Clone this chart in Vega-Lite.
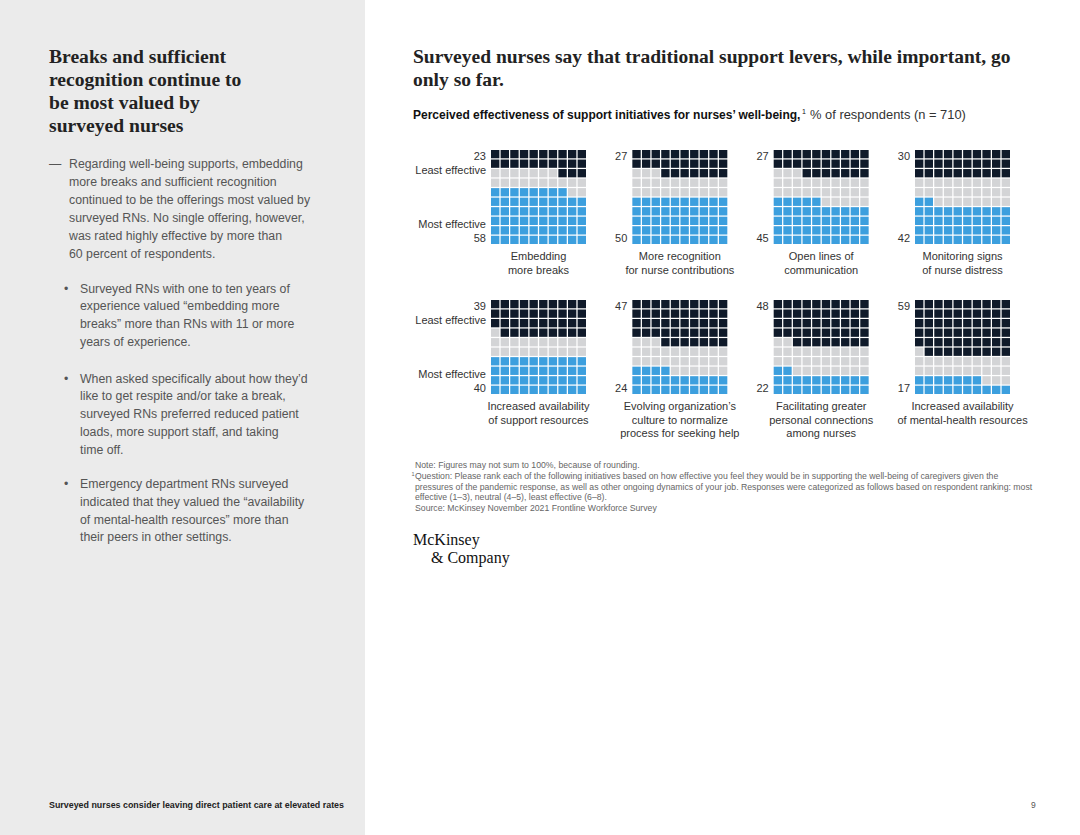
{
"$schema": "https://vega.github.io/schema/vega-lite/v6.json",
"width": 1080, "height": 835, "padding": 0, "autosize": {"type": "none"},
"background": "#ffffff",
"config": {"view": {"stroke": null}, "text": {"font": "Liberation Sans"}},
"datasets": {
"panels": [
{"p":1,"px":0,"py":0,"name":"Embedding\nmore breaks","least":23,"most":58},
{"p":2,"px":1,"py":0,"name":"More recognition\nfor nurse contributions","least":27,"most":50},
{"p":3,"px":2,"py":0,"name":"Open lines of\ncommunication","least":27,"most":45},
{"p":4,"px":3,"py":0,"name":"Monitoring signs\nof nurse distress","least":30,"most":42},
{"p":5,"px":0,"py":1,"name":"Increased availability\nof support resources","least":39,"most":40},
{"p":6,"px":1,"py":1,"name":"Evolving organization’s\nculture to normalize\nprocess for seeking help","least":47,"most":24},
{"p":7,"px":2,"py":1,"name":"Facilitating greater\npersonal connections\namong nurses","least":48,"most":22},
{"p":8,"px":3,"py":1,"name":"Increased availability\nof mental-health resources","least":59,"most":17}
],
"cells": [
{"p":1,"r":0,"c":0,"k":"L"},{"p":1,"r":0,"c":1,"k":"L"},{"p":1,"r":0,"c":2,"k":"L"},{"p":1,"r":0,"c":3,"k":"L"},{"p":1,"r":0,"c":4,"k":"L"},{"p":1,"r":0,"c":5,"k":"L"},{"p":1,"r":0,"c":6,"k":"L"},{"p":1,"r":0,"c":7,"k":"L"},{"p":1,"r":0,"c":8,"k":"L"},{"p":1,"r":0,"c":9,"k":"L"},
{"p":1,"r":1,"c":0,"k":"L"},{"p":1,"r":1,"c":1,"k":"L"},{"p":1,"r":1,"c":2,"k":"L"},{"p":1,"r":1,"c":3,"k":"L"},{"p":1,"r":1,"c":4,"k":"L"},{"p":1,"r":1,"c":5,"k":"L"},{"p":1,"r":1,"c":6,"k":"L"},{"p":1,"r":1,"c":7,"k":"L"},{"p":1,"r":1,"c":8,"k":"L"},{"p":1,"r":1,"c":9,"k":"L"},
{"p":1,"r":2,"c":0,"k":"N"},{"p":1,"r":2,"c":1,"k":"N"},{"p":1,"r":2,"c":2,"k":"N"},{"p":1,"r":2,"c":3,"k":"N"},{"p":1,"r":2,"c":4,"k":"N"},{"p":1,"r":2,"c":5,"k":"N"},{"p":1,"r":2,"c":6,"k":"N"},{"p":1,"r":2,"c":7,"k":"L"},{"p":1,"r":2,"c":8,"k":"L"},{"p":1,"r":2,"c":9,"k":"L"},
{"p":1,"r":3,"c":0,"k":"N"},{"p":1,"r":3,"c":1,"k":"N"},{"p":1,"r":3,"c":2,"k":"N"},{"p":1,"r":3,"c":3,"k":"N"},{"p":1,"r":3,"c":4,"k":"N"},{"p":1,"r":3,"c":5,"k":"N"},{"p":1,"r":3,"c":6,"k":"N"},{"p":1,"r":3,"c":7,"k":"N"},{"p":1,"r":3,"c":8,"k":"N"},{"p":1,"r":3,"c":9,"k":"N"},
{"p":1,"r":4,"c":0,"k":"M"},{"p":1,"r":4,"c":1,"k":"M"},{"p":1,"r":4,"c":2,"k":"M"},{"p":1,"r":4,"c":3,"k":"M"},{"p":1,"r":4,"c":4,"k":"M"},{"p":1,"r":4,"c":5,"k":"M"},{"p":1,"r":4,"c":6,"k":"M"},{"p":1,"r":4,"c":7,"k":"M"},{"p":1,"r":4,"c":8,"k":"N"},{"p":1,"r":4,"c":9,"k":"N"},
{"p":1,"r":5,"c":0,"k":"M"},{"p":1,"r":5,"c":1,"k":"M"},{"p":1,"r":5,"c":2,"k":"M"},{"p":1,"r":5,"c":3,"k":"M"},{"p":1,"r":5,"c":4,"k":"M"},{"p":1,"r":5,"c":5,"k":"M"},{"p":1,"r":5,"c":6,"k":"M"},{"p":1,"r":5,"c":7,"k":"M"},{"p":1,"r":5,"c":8,"k":"M"},{"p":1,"r":5,"c":9,"k":"M"},
{"p":1,"r":6,"c":0,"k":"M"},{"p":1,"r":6,"c":1,"k":"M"},{"p":1,"r":6,"c":2,"k":"M"},{"p":1,"r":6,"c":3,"k":"M"},{"p":1,"r":6,"c":4,"k":"M"},{"p":1,"r":6,"c":5,"k":"M"},{"p":1,"r":6,"c":6,"k":"M"},{"p":1,"r":6,"c":7,"k":"M"},{"p":1,"r":6,"c":8,"k":"M"},{"p":1,"r":6,"c":9,"k":"M"},
{"p":1,"r":7,"c":0,"k":"M"},{"p":1,"r":7,"c":1,"k":"M"},{"p":1,"r":7,"c":2,"k":"M"},{"p":1,"r":7,"c":3,"k":"M"},{"p":1,"r":7,"c":4,"k":"M"},{"p":1,"r":7,"c":5,"k":"M"},{"p":1,"r":7,"c":6,"k":"M"},{"p":1,"r":7,"c":7,"k":"M"},{"p":1,"r":7,"c":8,"k":"M"},{"p":1,"r":7,"c":9,"k":"M"},
{"p":1,"r":8,"c":0,"k":"M"},{"p":1,"r":8,"c":1,"k":"M"},{"p":1,"r":8,"c":2,"k":"M"},{"p":1,"r":8,"c":3,"k":"M"},{"p":1,"r":8,"c":4,"k":"M"},{"p":1,"r":8,"c":5,"k":"M"},{"p":1,"r":8,"c":6,"k":"M"},{"p":1,"r":8,"c":7,"k":"M"},{"p":1,"r":8,"c":8,"k":"M"},{"p":1,"r":8,"c":9,"k":"M"},
{"p":1,"r":9,"c":0,"k":"M"},{"p":1,"r":9,"c":1,"k":"M"},{"p":1,"r":9,"c":2,"k":"M"},{"p":1,"r":9,"c":3,"k":"M"},{"p":1,"r":9,"c":4,"k":"M"},{"p":1,"r":9,"c":5,"k":"M"},{"p":1,"r":9,"c":6,"k":"M"},{"p":1,"r":9,"c":7,"k":"M"},{"p":1,"r":9,"c":8,"k":"M"},{"p":1,"r":9,"c":9,"k":"M"},
{"p":2,"r":0,"c":0,"k":"L"},{"p":2,"r":0,"c":1,"k":"L"},{"p":2,"r":0,"c":2,"k":"L"},{"p":2,"r":0,"c":3,"k":"L"},{"p":2,"r":0,"c":4,"k":"L"},{"p":2,"r":0,"c":5,"k":"L"},{"p":2,"r":0,"c":6,"k":"L"},{"p":2,"r":0,"c":7,"k":"L"},{"p":2,"r":0,"c":8,"k":"L"},{"p":2,"r":0,"c":9,"k":"L"},
{"p":2,"r":1,"c":0,"k":"L"},{"p":2,"r":1,"c":1,"k":"L"},{"p":2,"r":1,"c":2,"k":"L"},{"p":2,"r":1,"c":3,"k":"L"},{"p":2,"r":1,"c":4,"k":"L"},{"p":2,"r":1,"c":5,"k":"L"},{"p":2,"r":1,"c":6,"k":"L"},{"p":2,"r":1,"c":7,"k":"L"},{"p":2,"r":1,"c":8,"k":"L"},{"p":2,"r":1,"c":9,"k":"L"},
{"p":2,"r":2,"c":0,"k":"N"},{"p":2,"r":2,"c":1,"k":"N"},{"p":2,"r":2,"c":2,"k":"N"},{"p":2,"r":2,"c":3,"k":"L"},{"p":2,"r":2,"c":4,"k":"L"},{"p":2,"r":2,"c":5,"k":"L"},{"p":2,"r":2,"c":6,"k":"L"},{"p":2,"r":2,"c":7,"k":"L"},{"p":2,"r":2,"c":8,"k":"L"},{"p":2,"r":2,"c":9,"k":"L"},
{"p":2,"r":3,"c":0,"k":"N"},{"p":2,"r":3,"c":1,"k":"N"},{"p":2,"r":3,"c":2,"k":"N"},{"p":2,"r":3,"c":3,"k":"N"},{"p":2,"r":3,"c":4,"k":"N"},{"p":2,"r":3,"c":5,"k":"N"},{"p":2,"r":3,"c":6,"k":"N"},{"p":2,"r":3,"c":7,"k":"N"},{"p":2,"r":3,"c":8,"k":"N"},{"p":2,"r":3,"c":9,"k":"N"},
{"p":2,"r":4,"c":0,"k":"N"},{"p":2,"r":4,"c":1,"k":"N"},{"p":2,"r":4,"c":2,"k":"N"},{"p":2,"r":4,"c":3,"k":"N"},{"p":2,"r":4,"c":4,"k":"N"},{"p":2,"r":4,"c":5,"k":"N"},{"p":2,"r":4,"c":6,"k":"N"},{"p":2,"r":4,"c":7,"k":"N"},{"p":2,"r":4,"c":8,"k":"N"},{"p":2,"r":4,"c":9,"k":"N"},
{"p":2,"r":5,"c":0,"k":"M"},{"p":2,"r":5,"c":1,"k":"M"},{"p":2,"r":5,"c":2,"k":"M"},{"p":2,"r":5,"c":3,"k":"M"},{"p":2,"r":5,"c":4,"k":"M"},{"p":2,"r":5,"c":5,"k":"M"},{"p":2,"r":5,"c":6,"k":"M"},{"p":2,"r":5,"c":7,"k":"M"},{"p":2,"r":5,"c":8,"k":"M"},{"p":2,"r":5,"c":9,"k":"M"},
{"p":2,"r":6,"c":0,"k":"M"},{"p":2,"r":6,"c":1,"k":"M"},{"p":2,"r":6,"c":2,"k":"M"},{"p":2,"r":6,"c":3,"k":"M"},{"p":2,"r":6,"c":4,"k":"M"},{"p":2,"r":6,"c":5,"k":"M"},{"p":2,"r":6,"c":6,"k":"M"},{"p":2,"r":6,"c":7,"k":"M"},{"p":2,"r":6,"c":8,"k":"M"},{"p":2,"r":6,"c":9,"k":"M"},
{"p":2,"r":7,"c":0,"k":"M"},{"p":2,"r":7,"c":1,"k":"M"},{"p":2,"r":7,"c":2,"k":"M"},{"p":2,"r":7,"c":3,"k":"M"},{"p":2,"r":7,"c":4,"k":"M"},{"p":2,"r":7,"c":5,"k":"M"},{"p":2,"r":7,"c":6,"k":"M"},{"p":2,"r":7,"c":7,"k":"M"},{"p":2,"r":7,"c":8,"k":"M"},{"p":2,"r":7,"c":9,"k":"M"},
{"p":2,"r":8,"c":0,"k":"M"},{"p":2,"r":8,"c":1,"k":"M"},{"p":2,"r":8,"c":2,"k":"M"},{"p":2,"r":8,"c":3,"k":"M"},{"p":2,"r":8,"c":4,"k":"M"},{"p":2,"r":8,"c":5,"k":"M"},{"p":2,"r":8,"c":6,"k":"M"},{"p":2,"r":8,"c":7,"k":"M"},{"p":2,"r":8,"c":8,"k":"M"},{"p":2,"r":8,"c":9,"k":"M"},
{"p":2,"r":9,"c":0,"k":"M"},{"p":2,"r":9,"c":1,"k":"M"},{"p":2,"r":9,"c":2,"k":"M"},{"p":2,"r":9,"c":3,"k":"M"},{"p":2,"r":9,"c":4,"k":"M"},{"p":2,"r":9,"c":5,"k":"M"},{"p":2,"r":9,"c":6,"k":"M"},{"p":2,"r":9,"c":7,"k":"M"},{"p":2,"r":9,"c":8,"k":"M"},{"p":2,"r":9,"c":9,"k":"M"},
{"p":3,"r":0,"c":0,"k":"L"},{"p":3,"r":0,"c":1,"k":"L"},{"p":3,"r":0,"c":2,"k":"L"},{"p":3,"r":0,"c":3,"k":"L"},{"p":3,"r":0,"c":4,"k":"L"},{"p":3,"r":0,"c":5,"k":"L"},{"p":3,"r":0,"c":6,"k":"L"},{"p":3,"r":0,"c":7,"k":"L"},{"p":3,"r":0,"c":8,"k":"L"},{"p":3,"r":0,"c":9,"k":"L"},
{"p":3,"r":1,"c":0,"k":"L"},{"p":3,"r":1,"c":1,"k":"L"},{"p":3,"r":1,"c":2,"k":"L"},{"p":3,"r":1,"c":3,"k":"L"},{"p":3,"r":1,"c":4,"k":"L"},{"p":3,"r":1,"c":5,"k":"L"},{"p":3,"r":1,"c":6,"k":"L"},{"p":3,"r":1,"c":7,"k":"L"},{"p":3,"r":1,"c":8,"k":"L"},{"p":3,"r":1,"c":9,"k":"L"},
{"p":3,"r":2,"c":0,"k":"N"},{"p":3,"r":2,"c":1,"k":"N"},{"p":3,"r":2,"c":2,"k":"N"},{"p":3,"r":2,"c":3,"k":"L"},{"p":3,"r":2,"c":4,"k":"L"},{"p":3,"r":2,"c":5,"k":"L"},{"p":3,"r":2,"c":6,"k":"L"},{"p":3,"r":2,"c":7,"k":"L"},{"p":3,"r":2,"c":8,"k":"L"},{"p":3,"r":2,"c":9,"k":"L"},
{"p":3,"r":3,"c":0,"k":"N"},{"p":3,"r":3,"c":1,"k":"N"},{"p":3,"r":3,"c":2,"k":"N"},{"p":3,"r":3,"c":3,"k":"N"},{"p":3,"r":3,"c":4,"k":"N"},{"p":3,"r":3,"c":5,"k":"N"},{"p":3,"r":3,"c":6,"k":"N"},{"p":3,"r":3,"c":7,"k":"N"},{"p":3,"r":3,"c":8,"k":"N"},{"p":3,"r":3,"c":9,"k":"N"},
{"p":3,"r":4,"c":0,"k":"N"},{"p":3,"r":4,"c":1,"k":"N"},{"p":3,"r":4,"c":2,"k":"N"},{"p":3,"r":4,"c":3,"k":"N"},{"p":3,"r":4,"c":4,"k":"N"},{"p":3,"r":4,"c":5,"k":"N"},{"p":3,"r":4,"c":6,"k":"N"},{"p":3,"r":4,"c":7,"k":"N"},{"p":3,"r":4,"c":8,"k":"N"},{"p":3,"r":4,"c":9,"k":"N"},
{"p":3,"r":5,"c":0,"k":"M"},{"p":3,"r":5,"c":1,"k":"M"},{"p":3,"r":5,"c":2,"k":"M"},{"p":3,"r":5,"c":3,"k":"M"},{"p":3,"r":5,"c":4,"k":"M"},{"p":3,"r":5,"c":5,"k":"N"},{"p":3,"r":5,"c":6,"k":"N"},{"p":3,"r":5,"c":7,"k":"N"},{"p":3,"r":5,"c":8,"k":"N"},{"p":3,"r":5,"c":9,"k":"N"},
{"p":3,"r":6,"c":0,"k":"M"},{"p":3,"r":6,"c":1,"k":"M"},{"p":3,"r":6,"c":2,"k":"M"},{"p":3,"r":6,"c":3,"k":"M"},{"p":3,"r":6,"c":4,"k":"M"},{"p":3,"r":6,"c":5,"k":"M"},{"p":3,"r":6,"c":6,"k":"M"},{"p":3,"r":6,"c":7,"k":"M"},{"p":3,"r":6,"c":8,"k":"M"},{"p":3,"r":6,"c":9,"k":"M"},
{"p":3,"r":7,"c":0,"k":"M"},{"p":3,"r":7,"c":1,"k":"M"},{"p":3,"r":7,"c":2,"k":"M"},{"p":3,"r":7,"c":3,"k":"M"},{"p":3,"r":7,"c":4,"k":"M"},{"p":3,"r":7,"c":5,"k":"M"},{"p":3,"r":7,"c":6,"k":"M"},{"p":3,"r":7,"c":7,"k":"M"},{"p":3,"r":7,"c":8,"k":"M"},{"p":3,"r":7,"c":9,"k":"M"},
{"p":3,"r":8,"c":0,"k":"M"},{"p":3,"r":8,"c":1,"k":"M"},{"p":3,"r":8,"c":2,"k":"M"},{"p":3,"r":8,"c":3,"k":"M"},{"p":3,"r":8,"c":4,"k":"M"},{"p":3,"r":8,"c":5,"k":"M"},{"p":3,"r":8,"c":6,"k":"M"},{"p":3,"r":8,"c":7,"k":"M"},{"p":3,"r":8,"c":8,"k":"M"},{"p":3,"r":8,"c":9,"k":"M"},
{"p":3,"r":9,"c":0,"k":"M"},{"p":3,"r":9,"c":1,"k":"M"},{"p":3,"r":9,"c":2,"k":"M"},{"p":3,"r":9,"c":3,"k":"M"},{"p":3,"r":9,"c":4,"k":"M"},{"p":3,"r":9,"c":5,"k":"M"},{"p":3,"r":9,"c":6,"k":"M"},{"p":3,"r":9,"c":7,"k":"M"},{"p":3,"r":9,"c":8,"k":"M"},{"p":3,"r":9,"c":9,"k":"M"},
{"p":4,"r":0,"c":0,"k":"L"},{"p":4,"r":0,"c":1,"k":"L"},{"p":4,"r":0,"c":2,"k":"L"},{"p":4,"r":0,"c":3,"k":"L"},{"p":4,"r":0,"c":4,"k":"L"},{"p":4,"r":0,"c":5,"k":"L"},{"p":4,"r":0,"c":6,"k":"L"},{"p":4,"r":0,"c":7,"k":"L"},{"p":4,"r":0,"c":8,"k":"L"},{"p":4,"r":0,"c":9,"k":"L"},
{"p":4,"r":1,"c":0,"k":"L"},{"p":4,"r":1,"c":1,"k":"L"},{"p":4,"r":1,"c":2,"k":"L"},{"p":4,"r":1,"c":3,"k":"L"},{"p":4,"r":1,"c":4,"k":"L"},{"p":4,"r":1,"c":5,"k":"L"},{"p":4,"r":1,"c":6,"k":"L"},{"p":4,"r":1,"c":7,"k":"L"},{"p":4,"r":1,"c":8,"k":"L"},{"p":4,"r":1,"c":9,"k":"L"},
{"p":4,"r":2,"c":0,"k":"L"},{"p":4,"r":2,"c":1,"k":"L"},{"p":4,"r":2,"c":2,"k":"L"},{"p":4,"r":2,"c":3,"k":"L"},{"p":4,"r":2,"c":4,"k":"L"},{"p":4,"r":2,"c":5,"k":"L"},{"p":4,"r":2,"c":6,"k":"L"},{"p":4,"r":2,"c":7,"k":"L"},{"p":4,"r":2,"c":8,"k":"L"},{"p":4,"r":2,"c":9,"k":"L"},
{"p":4,"r":3,"c":0,"k":"N"},{"p":4,"r":3,"c":1,"k":"N"},{"p":4,"r":3,"c":2,"k":"N"},{"p":4,"r":3,"c":3,"k":"N"},{"p":4,"r":3,"c":4,"k":"N"},{"p":4,"r":3,"c":5,"k":"N"},{"p":4,"r":3,"c":6,"k":"N"},{"p":4,"r":3,"c":7,"k":"N"},{"p":4,"r":3,"c":8,"k":"N"},{"p":4,"r":3,"c":9,"k":"N"},
{"p":4,"r":4,"c":0,"k":"N"},{"p":4,"r":4,"c":1,"k":"N"},{"p":4,"r":4,"c":2,"k":"N"},{"p":4,"r":4,"c":3,"k":"N"},{"p":4,"r":4,"c":4,"k":"N"},{"p":4,"r":4,"c":5,"k":"N"},{"p":4,"r":4,"c":6,"k":"N"},{"p":4,"r":4,"c":7,"k":"N"},{"p":4,"r":4,"c":8,"k":"N"},{"p":4,"r":4,"c":9,"k":"N"},
{"p":4,"r":5,"c":0,"k":"M"},{"p":4,"r":5,"c":1,"k":"M"},{"p":4,"r":5,"c":2,"k":"N"},{"p":4,"r":5,"c":3,"k":"N"},{"p":4,"r":5,"c":4,"k":"N"},{"p":4,"r":5,"c":5,"k":"N"},{"p":4,"r":5,"c":6,"k":"N"},{"p":4,"r":5,"c":7,"k":"N"},{"p":4,"r":5,"c":8,"k":"N"},{"p":4,"r":5,"c":9,"k":"N"},
{"p":4,"r":6,"c":0,"k":"M"},{"p":4,"r":6,"c":1,"k":"M"},{"p":4,"r":6,"c":2,"k":"M"},{"p":4,"r":6,"c":3,"k":"M"},{"p":4,"r":6,"c":4,"k":"M"},{"p":4,"r":6,"c":5,"k":"M"},{"p":4,"r":6,"c":6,"k":"M"},{"p":4,"r":6,"c":7,"k":"M"},{"p":4,"r":6,"c":8,"k":"M"},{"p":4,"r":6,"c":9,"k":"M"},
{"p":4,"r":7,"c":0,"k":"M"},{"p":4,"r":7,"c":1,"k":"M"},{"p":4,"r":7,"c":2,"k":"M"},{"p":4,"r":7,"c":3,"k":"M"},{"p":4,"r":7,"c":4,"k":"M"},{"p":4,"r":7,"c":5,"k":"M"},{"p":4,"r":7,"c":6,"k":"M"},{"p":4,"r":7,"c":7,"k":"M"},{"p":4,"r":7,"c":8,"k":"M"},{"p":4,"r":7,"c":9,"k":"M"},
{"p":4,"r":8,"c":0,"k":"M"},{"p":4,"r":8,"c":1,"k":"M"},{"p":4,"r":8,"c":2,"k":"M"},{"p":4,"r":8,"c":3,"k":"M"},{"p":4,"r":8,"c":4,"k":"M"},{"p":4,"r":8,"c":5,"k":"M"},{"p":4,"r":8,"c":6,"k":"M"},{"p":4,"r":8,"c":7,"k":"M"},{"p":4,"r":8,"c":8,"k":"M"},{"p":4,"r":8,"c":9,"k":"M"},
{"p":4,"r":9,"c":0,"k":"M"},{"p":4,"r":9,"c":1,"k":"M"},{"p":4,"r":9,"c":2,"k":"M"},{"p":4,"r":9,"c":3,"k":"M"},{"p":4,"r":9,"c":4,"k":"M"},{"p":4,"r":9,"c":5,"k":"M"},{"p":4,"r":9,"c":6,"k":"M"},{"p":4,"r":9,"c":7,"k":"M"},{"p":4,"r":9,"c":8,"k":"M"},{"p":4,"r":9,"c":9,"k":"M"},
{"p":5,"r":0,"c":0,"k":"L"},{"p":5,"r":0,"c":1,"k":"L"},{"p":5,"r":0,"c":2,"k":"L"},{"p":5,"r":0,"c":3,"k":"L"},{"p":5,"r":0,"c":4,"k":"L"},{"p":5,"r":0,"c":5,"k":"L"},{"p":5,"r":0,"c":6,"k":"L"},{"p":5,"r":0,"c":7,"k":"L"},{"p":5,"r":0,"c":8,"k":"L"},{"p":5,"r":0,"c":9,"k":"L"},
{"p":5,"r":1,"c":0,"k":"L"},{"p":5,"r":1,"c":1,"k":"L"},{"p":5,"r":1,"c":2,"k":"L"},{"p":5,"r":1,"c":3,"k":"L"},{"p":5,"r":1,"c":4,"k":"L"},{"p":5,"r":1,"c":5,"k":"L"},{"p":5,"r":1,"c":6,"k":"L"},{"p":5,"r":1,"c":7,"k":"L"},{"p":5,"r":1,"c":8,"k":"L"},{"p":5,"r":1,"c":9,"k":"L"},
{"p":5,"r":2,"c":0,"k":"L"},{"p":5,"r":2,"c":1,"k":"L"},{"p":5,"r":2,"c":2,"k":"L"},{"p":5,"r":2,"c":3,"k":"L"},{"p":5,"r":2,"c":4,"k":"L"},{"p":5,"r":2,"c":5,"k":"L"},{"p":5,"r":2,"c":6,"k":"L"},{"p":5,"r":2,"c":7,"k":"L"},{"p":5,"r":2,"c":8,"k":"L"},{"p":5,"r":2,"c":9,"k":"L"},
{"p":5,"r":3,"c":0,"k":"N"},{"p":5,"r":3,"c":1,"k":"L"},{"p":5,"r":3,"c":2,"k":"L"},{"p":5,"r":3,"c":3,"k":"L"},{"p":5,"r":3,"c":4,"k":"L"},{"p":5,"r":3,"c":5,"k":"L"},{"p":5,"r":3,"c":6,"k":"L"},{"p":5,"r":3,"c":7,"k":"L"},{"p":5,"r":3,"c":8,"k":"L"},{"p":5,"r":3,"c":9,"k":"L"},
{"p":5,"r":4,"c":0,"k":"N"},{"p":5,"r":4,"c":1,"k":"N"},{"p":5,"r":4,"c":2,"k":"N"},{"p":5,"r":4,"c":3,"k":"N"},{"p":5,"r":4,"c":4,"k":"N"},{"p":5,"r":4,"c":5,"k":"N"},{"p":5,"r":4,"c":6,"k":"N"},{"p":5,"r":4,"c":7,"k":"N"},{"p":5,"r":4,"c":8,"k":"N"},{"p":5,"r":4,"c":9,"k":"N"},
{"p":5,"r":5,"c":0,"k":"N"},{"p":5,"r":5,"c":1,"k":"N"},{"p":5,"r":5,"c":2,"k":"N"},{"p":5,"r":5,"c":3,"k":"N"},{"p":5,"r":5,"c":4,"k":"N"},{"p":5,"r":5,"c":5,"k":"N"},{"p":5,"r":5,"c":6,"k":"N"},{"p":5,"r":5,"c":7,"k":"N"},{"p":5,"r":5,"c":8,"k":"N"},{"p":5,"r":5,"c":9,"k":"N"},
{"p":5,"r":6,"c":0,"k":"M"},{"p":5,"r":6,"c":1,"k":"M"},{"p":5,"r":6,"c":2,"k":"M"},{"p":5,"r":6,"c":3,"k":"M"},{"p":5,"r":6,"c":4,"k":"M"},{"p":5,"r":6,"c":5,"k":"M"},{"p":5,"r":6,"c":6,"k":"M"},{"p":5,"r":6,"c":7,"k":"M"},{"p":5,"r":6,"c":8,"k":"M"},{"p":5,"r":6,"c":9,"k":"M"},
{"p":5,"r":7,"c":0,"k":"M"},{"p":5,"r":7,"c":1,"k":"M"},{"p":5,"r":7,"c":2,"k":"M"},{"p":5,"r":7,"c":3,"k":"M"},{"p":5,"r":7,"c":4,"k":"M"},{"p":5,"r":7,"c":5,"k":"M"},{"p":5,"r":7,"c":6,"k":"M"},{"p":5,"r":7,"c":7,"k":"M"},{"p":5,"r":7,"c":8,"k":"M"},{"p":5,"r":7,"c":9,"k":"M"},
{"p":5,"r":8,"c":0,"k":"M"},{"p":5,"r":8,"c":1,"k":"M"},{"p":5,"r":8,"c":2,"k":"M"},{"p":5,"r":8,"c":3,"k":"M"},{"p":5,"r":8,"c":4,"k":"M"},{"p":5,"r":8,"c":5,"k":"M"},{"p":5,"r":8,"c":6,"k":"M"},{"p":5,"r":8,"c":7,"k":"M"},{"p":5,"r":8,"c":8,"k":"M"},{"p":5,"r":8,"c":9,"k":"M"},
{"p":5,"r":9,"c":0,"k":"M"},{"p":5,"r":9,"c":1,"k":"M"},{"p":5,"r":9,"c":2,"k":"M"},{"p":5,"r":9,"c":3,"k":"M"},{"p":5,"r":9,"c":4,"k":"M"},{"p":5,"r":9,"c":5,"k":"M"},{"p":5,"r":9,"c":6,"k":"M"},{"p":5,"r":9,"c":7,"k":"M"},{"p":5,"r":9,"c":8,"k":"M"},{"p":5,"r":9,"c":9,"k":"M"},
{"p":6,"r":0,"c":0,"k":"L"},{"p":6,"r":0,"c":1,"k":"L"},{"p":6,"r":0,"c":2,"k":"L"},{"p":6,"r":0,"c":3,"k":"L"},{"p":6,"r":0,"c":4,"k":"L"},{"p":6,"r":0,"c":5,"k":"L"},{"p":6,"r":0,"c":6,"k":"L"},{"p":6,"r":0,"c":7,"k":"L"},{"p":6,"r":0,"c":8,"k":"L"},{"p":6,"r":0,"c":9,"k":"L"},
{"p":6,"r":1,"c":0,"k":"L"},{"p":6,"r":1,"c":1,"k":"L"},{"p":6,"r":1,"c":2,"k":"L"},{"p":6,"r":1,"c":3,"k":"L"},{"p":6,"r":1,"c":4,"k":"L"},{"p":6,"r":1,"c":5,"k":"L"},{"p":6,"r":1,"c":6,"k":"L"},{"p":6,"r":1,"c":7,"k":"L"},{"p":6,"r":1,"c":8,"k":"L"},{"p":6,"r":1,"c":9,"k":"L"},
{"p":6,"r":2,"c":0,"k":"L"},{"p":6,"r":2,"c":1,"k":"L"},{"p":6,"r":2,"c":2,"k":"L"},{"p":6,"r":2,"c":3,"k":"L"},{"p":6,"r":2,"c":4,"k":"L"},{"p":6,"r":2,"c":5,"k":"L"},{"p":6,"r":2,"c":6,"k":"L"},{"p":6,"r":2,"c":7,"k":"L"},{"p":6,"r":2,"c":8,"k":"L"},{"p":6,"r":2,"c":9,"k":"L"},
{"p":6,"r":3,"c":0,"k":"L"},{"p":6,"r":3,"c":1,"k":"L"},{"p":6,"r":3,"c":2,"k":"L"},{"p":6,"r":3,"c":3,"k":"L"},{"p":6,"r":3,"c":4,"k":"L"},{"p":6,"r":3,"c":5,"k":"L"},{"p":6,"r":3,"c":6,"k":"L"},{"p":6,"r":3,"c":7,"k":"L"},{"p":6,"r":3,"c":8,"k":"L"},{"p":6,"r":3,"c":9,"k":"L"},
{"p":6,"r":4,"c":0,"k":"N"},{"p":6,"r":4,"c":1,"k":"N"},{"p":6,"r":4,"c":2,"k":"N"},{"p":6,"r":4,"c":3,"k":"L"},{"p":6,"r":4,"c":4,"k":"L"},{"p":6,"r":4,"c":5,"k":"L"},{"p":6,"r":4,"c":6,"k":"L"},{"p":6,"r":4,"c":7,"k":"L"},{"p":6,"r":4,"c":8,"k":"L"},{"p":6,"r":4,"c":9,"k":"L"},
{"p":6,"r":5,"c":0,"k":"N"},{"p":6,"r":5,"c":1,"k":"N"},{"p":6,"r":5,"c":2,"k":"N"},{"p":6,"r":5,"c":3,"k":"N"},{"p":6,"r":5,"c":4,"k":"N"},{"p":6,"r":5,"c":5,"k":"N"},{"p":6,"r":5,"c":6,"k":"N"},{"p":6,"r":5,"c":7,"k":"N"},{"p":6,"r":5,"c":8,"k":"N"},{"p":6,"r":5,"c":9,"k":"N"},
{"p":6,"r":6,"c":0,"k":"N"},{"p":6,"r":6,"c":1,"k":"N"},{"p":6,"r":6,"c":2,"k":"N"},{"p":6,"r":6,"c":3,"k":"N"},{"p":6,"r":6,"c":4,"k":"N"},{"p":6,"r":6,"c":5,"k":"N"},{"p":6,"r":6,"c":6,"k":"N"},{"p":6,"r":6,"c":7,"k":"N"},{"p":6,"r":6,"c":8,"k":"N"},{"p":6,"r":6,"c":9,"k":"N"},
{"p":6,"r":7,"c":0,"k":"M"},{"p":6,"r":7,"c":1,"k":"M"},{"p":6,"r":7,"c":2,"k":"M"},{"p":6,"r":7,"c":3,"k":"M"},{"p":6,"r":7,"c":4,"k":"N"},{"p":6,"r":7,"c":5,"k":"N"},{"p":6,"r":7,"c":6,"k":"N"},{"p":6,"r":7,"c":7,"k":"N"},{"p":6,"r":7,"c":8,"k":"N"},{"p":6,"r":7,"c":9,"k":"N"},
{"p":6,"r":8,"c":0,"k":"M"},{"p":6,"r":8,"c":1,"k":"M"},{"p":6,"r":8,"c":2,"k":"M"},{"p":6,"r":8,"c":3,"k":"M"},{"p":6,"r":8,"c":4,"k":"M"},{"p":6,"r":8,"c":5,"k":"M"},{"p":6,"r":8,"c":6,"k":"M"},{"p":6,"r":8,"c":7,"k":"M"},{"p":6,"r":8,"c":8,"k":"M"},{"p":6,"r":8,"c":9,"k":"M"},
{"p":6,"r":9,"c":0,"k":"M"},{"p":6,"r":9,"c":1,"k":"M"},{"p":6,"r":9,"c":2,"k":"M"},{"p":6,"r":9,"c":3,"k":"M"},{"p":6,"r":9,"c":4,"k":"M"},{"p":6,"r":9,"c":5,"k":"M"},{"p":6,"r":9,"c":6,"k":"M"},{"p":6,"r":9,"c":7,"k":"M"},{"p":6,"r":9,"c":8,"k":"M"},{"p":6,"r":9,"c":9,"k":"M"},
{"p":7,"r":0,"c":0,"k":"L"},{"p":7,"r":0,"c":1,"k":"L"},{"p":7,"r":0,"c":2,"k":"L"},{"p":7,"r":0,"c":3,"k":"L"},{"p":7,"r":0,"c":4,"k":"L"},{"p":7,"r":0,"c":5,"k":"L"},{"p":7,"r":0,"c":6,"k":"L"},{"p":7,"r":0,"c":7,"k":"L"},{"p":7,"r":0,"c":8,"k":"L"},{"p":7,"r":0,"c":9,"k":"L"},
{"p":7,"r":1,"c":0,"k":"L"},{"p":7,"r":1,"c":1,"k":"L"},{"p":7,"r":1,"c":2,"k":"L"},{"p":7,"r":1,"c":3,"k":"L"},{"p":7,"r":1,"c":4,"k":"L"},{"p":7,"r":1,"c":5,"k":"L"},{"p":7,"r":1,"c":6,"k":"L"},{"p":7,"r":1,"c":7,"k":"L"},{"p":7,"r":1,"c":8,"k":"L"},{"p":7,"r":1,"c":9,"k":"L"},
{"p":7,"r":2,"c":0,"k":"L"},{"p":7,"r":2,"c":1,"k":"L"},{"p":7,"r":2,"c":2,"k":"L"},{"p":7,"r":2,"c":3,"k":"L"},{"p":7,"r":2,"c":4,"k":"L"},{"p":7,"r":2,"c":5,"k":"L"},{"p":7,"r":2,"c":6,"k":"L"},{"p":7,"r":2,"c":7,"k":"L"},{"p":7,"r":2,"c":8,"k":"L"},{"p":7,"r":2,"c":9,"k":"L"},
{"p":7,"r":3,"c":0,"k":"L"},{"p":7,"r":3,"c":1,"k":"L"},{"p":7,"r":3,"c":2,"k":"L"},{"p":7,"r":3,"c":3,"k":"L"},{"p":7,"r":3,"c":4,"k":"L"},{"p":7,"r":3,"c":5,"k":"L"},{"p":7,"r":3,"c":6,"k":"L"},{"p":7,"r":3,"c":7,"k":"L"},{"p":7,"r":3,"c":8,"k":"L"},{"p":7,"r":3,"c":9,"k":"L"},
{"p":7,"r":4,"c":0,"k":"N"},{"p":7,"r":4,"c":1,"k":"N"},{"p":7,"r":4,"c":2,"k":"L"},{"p":7,"r":4,"c":3,"k":"L"},{"p":7,"r":4,"c":4,"k":"L"},{"p":7,"r":4,"c":5,"k":"L"},{"p":7,"r":4,"c":6,"k":"L"},{"p":7,"r":4,"c":7,"k":"L"},{"p":7,"r":4,"c":8,"k":"L"},{"p":7,"r":4,"c":9,"k":"L"},
{"p":7,"r":5,"c":0,"k":"N"},{"p":7,"r":5,"c":1,"k":"N"},{"p":7,"r":5,"c":2,"k":"N"},{"p":7,"r":5,"c":3,"k":"N"},{"p":7,"r":5,"c":4,"k":"N"},{"p":7,"r":5,"c":5,"k":"N"},{"p":7,"r":5,"c":6,"k":"N"},{"p":7,"r":5,"c":7,"k":"N"},{"p":7,"r":5,"c":8,"k":"N"},{"p":7,"r":5,"c":9,"k":"N"},
{"p":7,"r":6,"c":0,"k":"N"},{"p":7,"r":6,"c":1,"k":"N"},{"p":7,"r":6,"c":2,"k":"N"},{"p":7,"r":6,"c":3,"k":"N"},{"p":7,"r":6,"c":4,"k":"N"},{"p":7,"r":6,"c":5,"k":"N"},{"p":7,"r":6,"c":6,"k":"N"},{"p":7,"r":6,"c":7,"k":"N"},{"p":7,"r":6,"c":8,"k":"N"},{"p":7,"r":6,"c":9,"k":"N"},
{"p":7,"r":7,"c":0,"k":"M"},{"p":7,"r":7,"c":1,"k":"M"},{"p":7,"r":7,"c":2,"k":"N"},{"p":7,"r":7,"c":3,"k":"N"},{"p":7,"r":7,"c":4,"k":"N"},{"p":7,"r":7,"c":5,"k":"N"},{"p":7,"r":7,"c":6,"k":"N"},{"p":7,"r":7,"c":7,"k":"N"},{"p":7,"r":7,"c":8,"k":"N"},{"p":7,"r":7,"c":9,"k":"N"},
{"p":7,"r":8,"c":0,"k":"M"},{"p":7,"r":8,"c":1,"k":"M"},{"p":7,"r":8,"c":2,"k":"M"},{"p":7,"r":8,"c":3,"k":"M"},{"p":7,"r":8,"c":4,"k":"M"},{"p":7,"r":8,"c":5,"k":"M"},{"p":7,"r":8,"c":6,"k":"M"},{"p":7,"r":8,"c":7,"k":"M"},{"p":7,"r":8,"c":8,"k":"M"},{"p":7,"r":8,"c":9,"k":"M"},
{"p":7,"r":9,"c":0,"k":"M"},{"p":7,"r":9,"c":1,"k":"M"},{"p":7,"r":9,"c":2,"k":"M"},{"p":7,"r":9,"c":3,"k":"M"},{"p":7,"r":9,"c":4,"k":"M"},{"p":7,"r":9,"c":5,"k":"M"},{"p":7,"r":9,"c":6,"k":"M"},{"p":7,"r":9,"c":7,"k":"M"},{"p":7,"r":9,"c":8,"k":"M"},{"p":7,"r":9,"c":9,"k":"M"},
{"p":8,"r":0,"c":0,"k":"L"},{"p":8,"r":0,"c":1,"k":"L"},{"p":8,"r":0,"c":2,"k":"L"},{"p":8,"r":0,"c":3,"k":"L"},{"p":8,"r":0,"c":4,"k":"L"},{"p":8,"r":0,"c":5,"k":"L"},{"p":8,"r":0,"c":6,"k":"L"},{"p":8,"r":0,"c":7,"k":"L"},{"p":8,"r":0,"c":8,"k":"L"},{"p":8,"r":0,"c":9,"k":"L"},
{"p":8,"r":1,"c":0,"k":"L"},{"p":8,"r":1,"c":1,"k":"L"},{"p":8,"r":1,"c":2,"k":"L"},{"p":8,"r":1,"c":3,"k":"L"},{"p":8,"r":1,"c":4,"k":"L"},{"p":8,"r":1,"c":5,"k":"L"},{"p":8,"r":1,"c":6,"k":"L"},{"p":8,"r":1,"c":7,"k":"L"},{"p":8,"r":1,"c":8,"k":"L"},{"p":8,"r":1,"c":9,"k":"L"},
{"p":8,"r":2,"c":0,"k":"L"},{"p":8,"r":2,"c":1,"k":"L"},{"p":8,"r":2,"c":2,"k":"L"},{"p":8,"r":2,"c":3,"k":"L"},{"p":8,"r":2,"c":4,"k":"L"},{"p":8,"r":2,"c":5,"k":"L"},{"p":8,"r":2,"c":6,"k":"L"},{"p":8,"r":2,"c":7,"k":"L"},{"p":8,"r":2,"c":8,"k":"L"},{"p":8,"r":2,"c":9,"k":"L"},
{"p":8,"r":3,"c":0,"k":"L"},{"p":8,"r":3,"c":1,"k":"L"},{"p":8,"r":3,"c":2,"k":"L"},{"p":8,"r":3,"c":3,"k":"L"},{"p":8,"r":3,"c":4,"k":"L"},{"p":8,"r":3,"c":5,"k":"L"},{"p":8,"r":3,"c":6,"k":"L"},{"p":8,"r":3,"c":7,"k":"L"},{"p":8,"r":3,"c":8,"k":"L"},{"p":8,"r":3,"c":9,"k":"L"},
{"p":8,"r":4,"c":0,"k":"L"},{"p":8,"r":4,"c":1,"k":"L"},{"p":8,"r":4,"c":2,"k":"L"},{"p":8,"r":4,"c":3,"k":"L"},{"p":8,"r":4,"c":4,"k":"L"},{"p":8,"r":4,"c":5,"k":"L"},{"p":8,"r":4,"c":6,"k":"L"},{"p":8,"r":4,"c":7,"k":"L"},{"p":8,"r":4,"c":8,"k":"L"},{"p":8,"r":4,"c":9,"k":"L"},
{"p":8,"r":5,"c":0,"k":"N"},{"p":8,"r":5,"c":1,"k":"L"},{"p":8,"r":5,"c":2,"k":"L"},{"p":8,"r":5,"c":3,"k":"L"},{"p":8,"r":5,"c":4,"k":"L"},{"p":8,"r":5,"c":5,"k":"L"},{"p":8,"r":5,"c":6,"k":"L"},{"p":8,"r":5,"c":7,"k":"L"},{"p":8,"r":5,"c":8,"k":"L"},{"p":8,"r":5,"c":9,"k":"L"},
{"p":8,"r":6,"c":0,"k":"N"},{"p":8,"r":6,"c":1,"k":"N"},{"p":8,"r":6,"c":2,"k":"N"},{"p":8,"r":6,"c":3,"k":"N"},{"p":8,"r":6,"c":4,"k":"N"},{"p":8,"r":6,"c":5,"k":"N"},{"p":8,"r":6,"c":6,"k":"N"},{"p":8,"r":6,"c":7,"k":"N"},{"p":8,"r":6,"c":8,"k":"N"},{"p":8,"r":6,"c":9,"k":"N"},
{"p":8,"r":7,"c":0,"k":"N"},{"p":8,"r":7,"c":1,"k":"N"},{"p":8,"r":7,"c":2,"k":"N"},{"p":8,"r":7,"c":3,"k":"N"},{"p":8,"r":7,"c":4,"k":"N"},{"p":8,"r":7,"c":5,"k":"N"},{"p":8,"r":7,"c":6,"k":"N"},{"p":8,"r":7,"c":7,"k":"N"},{"p":8,"r":7,"c":8,"k":"N"},{"p":8,"r":7,"c":9,"k":"N"},
{"p":8,"r":8,"c":0,"k":"M"},{"p":8,"r":8,"c":1,"k":"M"},{"p":8,"r":8,"c":2,"k":"M"},{"p":8,"r":8,"c":3,"k":"M"},{"p":8,"r":8,"c":4,"k":"M"},{"p":8,"r":8,"c":5,"k":"M"},{"p":8,"r":8,"c":6,"k":"M"},{"p":8,"r":8,"c":7,"k":"N"},{"p":8,"r":8,"c":8,"k":"N"},{"p":8,"r":8,"c":9,"k":"N"},
{"p":8,"r":9,"c":0,"k":"M"},{"p":8,"r":9,"c":1,"k":"M"},{"p":8,"r":9,"c":2,"k":"M"},{"p":8,"r":9,"c":3,"k":"M"},{"p":8,"r":9,"c":4,"k":"M"},{"p":8,"r":9,"c":5,"k":"M"},{"p":8,"r":9,"c":6,"k":"M"},{"p":8,"r":9,"c":7,"k":"M"},{"p":8,"r":9,"c":8,"k":"M"},{"p":8,"r":9,"c":9,"k":"M"}
]
},
"layer": [
{"data": {"values": [{}]}, "mark": {"type": "rect", "color": "#ebebeb"}, "encoding": {"x": {"value": 0}, "x2": {"value": 365}, "y": {"value": 0}, "y2": {"value": 835}}},
{"data": {"values": [{}]}, "mark": {"type": "text", "align": "left", "baseline": "alphabetic", "font": "Liberation Serif", "fontWeight": "bold", "fontSize": 19.6, "lineHeight": 23.3, "color": "#222222",
  "text": ["Breaks and sufficient", "recognition continue to", "be most valued by", "surveyed nurses"]}, "encoding": {"x": {"value": 49}, "y": {"value": 62.5}}},
{"data": {"values": [{}]}, "mark": {"type": "text", "align": "left", "baseline": "alphabetic", "fontSize": 12.3, "color": "#555555", "text": "—"}, "encoding": {"x": {"value": 49}, "y": {"value": 168}}},
{"data": {"values": [{}]}, "mark": {"type": "text", "align": "left", "baseline": "alphabetic", "fontSize": 12.3, "lineHeight": 17.9, "color": "#555555",
  "text": ["Regarding well-being supports, embedding", "more breaks and sufficient recognition", "continued to be the offerings most valued by", "surveyed RNs. No single offering, however,", "was rated highly effective by more than", "60 percent of respondents."]}, "encoding": {"x": {"value": 69}, "y": {"value": 168}}},
{"data": {"values": [{}]}, "mark": {"type": "text", "align": "left", "baseline": "alphabetic", "fontSize": 12.3, "color": "#555555", "text": "•"}, "encoding": {"x": {"value": 64}, "y": {"value": 292.5}}},
{"data": {"values": [{}]}, "mark": {"type": "text", "align": "left", "baseline": "alphabetic", "fontSize": 12.3, "lineHeight": 17.8, "color": "#555555",
  "text": ["Surveyed RNs with one to ten years of", "experience valued “embedding more", "breaks” more than RNs with 11 or more", "years of experience."]}, "encoding": {"x": {"value": 80}, "y": {"value": 292.5}}},
{"data": {"values": [{}]}, "mark": {"type": "text", "align": "left", "baseline": "alphabetic", "fontSize": 12.3, "color": "#555555", "text": "•"}, "encoding": {"x": {"value": 64}, "y": {"value": 382.5}}},
{"data": {"values": [{}]}, "mark": {"type": "text", "align": "left", "baseline": "alphabetic", "fontSize": 12.3, "lineHeight": 17.8, "color": "#555555",
  "text": ["When asked specifically about how they’d", "like to get respite and/or take a break,", "surveyed RNs preferred reduced patient", "loads, more support staff, and taking", "time off."]}, "encoding": {"x": {"value": 80}, "y": {"value": 382.5}}},
{"data": {"values": [{}]}, "mark": {"type": "text", "align": "left", "baseline": "alphabetic", "fontSize": 12.3, "color": "#555555", "text": "•"}, "encoding": {"x": {"value": 64}, "y": {"value": 488}}},
{"data": {"values": [{}]}, "mark": {"type": "text", "align": "left", "baseline": "alphabetic", "fontSize": 12.3, "lineHeight": 17.8, "color": "#555555",
  "text": ["Emergency department RNs surveyed", "indicated that they valued the “availability", "of mental-health resources” more than", "their peers in other settings."]}, "encoding": {"x": {"value": 80}, "y": {"value": 488}}},
{"data": {"values": [{}]}, "mark": {"type": "text", "align": "left", "baseline": "alphabetic", "fontSize": 8.9, "fontWeight": "bold", "color": "#222222", "text": "Surveyed nurses consider leaving direct patient care at elevated rates"}, "encoding": {"x": {"value": 49}, "y": {"value": 808}}},
{"data": {"values": [{}]}, "mark": {"type": "text", "align": "left", "baseline": "alphabetic", "fontSize": 8.5, "color": "#555555", "text": "9"}, "encoding": {"x": {"value": 1031}, "y": {"value": 808}}},
{"data": {"values": [{}]}, "mark": {"type": "text", "align": "left", "baseline": "alphabetic", "font": "Liberation Serif", "fontWeight": "bold", "fontSize": 19.5, "lineHeight": 23.3, "color": "#222222",
  "text": ["Surveyed nurses say that traditional support levers, while important, go", "only so far."]}, "encoding": {"x": {"value": 413}, "y": {"value": 63}}},
{"data": {"values": [{}]}, "mark": {"type": "text", "align": "left", "baseline": "alphabetic", "fontSize": 12, "fontWeight": "bold", "color": "#111111", "text": "Perceived effectiveness of support initiatives for nurses’ well-being,"}, "encoding": {"x": {"value": 413}, "y": {"value": 119}}},
{"data": {"values": [{}]}, "mark": {"type": "text", "align": "left", "baseline": "alphabetic", "fontSize": 7, "color": "#111111", "text": "1"}, "encoding": {"x": {"value": 802}, "y": {"value": 114}}},
{"data": {"values": [{}]}, "mark": {"type": "text", "align": "left", "baseline": "alphabetic", "fontSize": 12.9, "color": "#333333", "text": "% of respondents (n = 710)"}, "encoding": {"x": {"value": 810}, "y": {"value": 119}}},
{"data": {"values": [{}]}, "mark": {"type": "text", "align": "left", "baseline": "alphabetic", "fontSize": 8.7, "lineHeight": 10.8, "color": "#666666",
  "text": ["Note: Figures may not sum to 100%, because of rounding.", "Question: Please rank each of the following initiatives based on how effective you feel they would be in supporting the well-being of caregivers given the", "pressures of the pandemic response, as well as other ongoing dynamics of your job. Responses were categorized as follows based on respondent ranking: most", "effective (1–3), neutral (4–5), least effective (6–8).", "Source: McKinsey November 2021 Frontline Workforce Survey"]}, "encoding": {"x": {"value": 415}, "y": {"value": 468}}},
{"data": {"values": [{}]}, "mark": {"type": "text", "align": "left", "baseline": "alphabetic", "fontSize": 5.5, "color": "#666666", "text": "1"}, "encoding": {"x": {"value": 411.5}, "y": {"value": 475.5}}},
{"data": {"values": [{}]}, "mark": {"type": "text", "align": "left", "baseline": "alphabetic", "font": "Liberation Serif", "fontSize": 16, "color": "#111111", "text": "McKinsey"}, "encoding": {"x": {"value": 413}, "y": {"value": 545}}},
{"data": {"values": [{}]}, "mark": {"type": "text", "align": "left", "baseline": "alphabetic", "font": "Liberation Serif", "fontSize": 16, "color": "#111111", "text": "& Company"}, "encoding": {"x": {"value": 431}, "y": {"value": 562.5}}},
{"data": {"name": "cells"},
 "transform": [{"lookup": "p", "from": {"data": {"name": "panels"}, "key": "p", "fields": ["px", "py"]}}],
 "mark": {"type": "rect"},
 "encoding": {
  "x": {"field": "px", "type": "ordinal", "axis": null, "scale": {"range": [491, 1010], "paddingInner": 0.328, "paddingOuter": 0}},
  "xOffset": {"field": "c", "type": "ordinal", "scale": {"paddingInner": 0.13, "paddingOuter": 0}},
  "y": {"field": "py", "type": "ordinal", "axis": null, "scale": {"range": [150, 394], "paddingInner": 0.373, "paddingOuter": 0}},
  "yOffset": {"field": "r", "type": "ordinal", "scale": {"paddingInner": 0.13, "paddingOuter": 0}},
  "color": {"field": "k", "type": "nominal", "legend": null, "scale": {"domain": ["L", "N", "M"], "range": ["#0f1a2a", "#d3d4d6", "#3c9fde"]}}
 }},
{"data": {"name": "panels"}, "mark": {"type": "text", "align": "right", "baseline": "middle", "dx": -5, "dy": 7, "fontSize": 11, "color": "#333333"},
 "encoding": {"x": {"field": "px", "type": "ordinal", "axis": null, "bandPosition": 0}, "y": {"field": "py", "type": "ordinal", "axis": null, "bandPosition": 0}, "text": {"field": "least", "type": "quantitative"}}},
{"data": {"name": "panels"}, "transform": [{"filter": {"field": "px", "equal": 0}}], "mark": {"type": "text", "align": "right", "baseline": "middle", "dx": -5, "dy": 21, "fontSize": 11, "color": "#333333", "text": "Least effective"},
 "encoding": {"x": {"field": "px", "type": "ordinal", "axis": null, "bandPosition": 0}, "y": {"field": "py", "type": "ordinal", "axis": null, "bandPosition": 0}}},
{"data": {"name": "panels"}, "mark": {"type": "text", "align": "right", "baseline": "middle", "dx": -5, "dy": -5, "fontSize": 11, "color": "#333333"},
 "encoding": {"x": {"field": "px", "type": "ordinal", "axis": null, "bandPosition": 0}, "y": {"field": "py", "type": "ordinal", "axis": null, "bandPosition": 1}, "text": {"field": "most", "type": "quantitative"}}},
{"data": {"name": "panels"}, "transform": [{"filter": {"field": "px", "equal": 0}}], "mark": {"type": "text", "align": "right", "baseline": "middle", "dx": -5, "dy": -19, "fontSize": 11, "color": "#333333", "text": "Most effective"},
 "encoding": {"x": {"field": "px", "type": "ordinal", "axis": null, "bandPosition": 0}, "y": {"field": "py", "type": "ordinal", "axis": null, "bandPosition": 1}}},
{"data": {"name": "panels"}, "mark": {"type": "text", "align": "center", "baseline": "top", "dy": 7, "fontSize": 11, "lineHeight": 13.7, "lineBreak": "\n", "color": "#333333"},
 "encoding": {"x": {"field": "px", "type": "ordinal", "axis": null, "bandPosition": 0.5}, "y": {"field": "py", "type": "ordinal", "axis": null, "bandPosition": 1}, "text": {"field": "name", "type": "nominal"}}}
]
}
